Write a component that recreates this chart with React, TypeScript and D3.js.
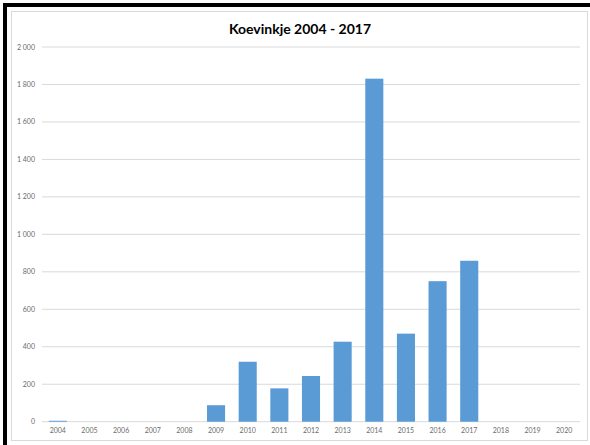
import React from "react";
import * as d3 from "d3";

const years = ["2004","2005","2006","2007","2008","2009","2010","2011","2012","2013","2014","2015","2016","2017","2018","2019","2020"];
const values = [5, 0, 0, 0, 0, 88, 320, 178, 244, 427, 1831, 470, 750, 859, 0, 0, 0];
const yTicks = [0, 200, 400, 600, 800, 1000, 1200, 1400, 1600, 1800, 2000];
const title = "Koevinkje 2004 - 2017";

const W = 590, H = 445;
const plot = { left: 42, right: 580, top: 47, bottom: 421.7 };

const fmt = (v: number) => {
  const s = String(v);
  return s.length > 3 ? s.slice(0, s.length - 3) + "\u00a0" + s.slice(s.length - 3) : s;
};

export default function App() {
  const x = d3.scaleBand<string>().domain(years).range([plot.left, plot.right]).paddingInner(0.75 / 1.75).paddingOuter(0.75 / 1.75 / 2);
  const y = d3.scaleLinear().domain([0, 2000]).range([plot.bottom, plot.top]);
  const band = (plot.right - plot.left) / years.length;
  return (
    <svg width={W} height={H} style={{ position: "absolute", left: 0, top: 0, display: "block" }}>
      <rect x={0} y={0} width={W} height={H} fill="#fff" />
      <rect x={3} y={3} width={W - 3} height={4} fill="#000" />
      <rect x={3} y={3} width={4} height={H - 3} fill="#000" />
      <rect x={11.5} y={11.5} width={576} height={429} fill="#fff" stroke="#d9d9d9" strokeWidth={1} />
      <text x={300} y={34} textAnchor="middle" fontFamily="Lato, 'Open Sans', sans-serif" fontWeight="bold" fontSize={14} fill="#000">{title}</text>
      {yTicks.map((t) => (
        <g key={t}>
          <line x1={plot.left} x2={plot.right} y1={y(t)} y2={y(t)} stroke="#d9d9d9" strokeWidth={1} />
          <text x={35} y={y(t) + 2.5} textAnchor="end" fontFamily="Lato, 'Open Sans', sans-serif" fontSize={7} fill="#6b6b6b">{fmt(t)}</text>
        </g>
      ))}
      {years.map((yr, i) => (
        <g key={yr}>
          {values[i] > 0 && (
            <rect x={x(yr)} y={y(values[i])} width={x.bandwidth()} height={y(0) - y(values[i])} fill="#5b9bd5" />
          )}
          <text x={plot.left + band * (i + 0.5)} y={433} textAnchor="middle" fontFamily="Lato, 'Open Sans', sans-serif" fontSize={7} fill="#6b6b6b">{yr}</text>
        </g>
      ))}
    </svg>
  );
}
